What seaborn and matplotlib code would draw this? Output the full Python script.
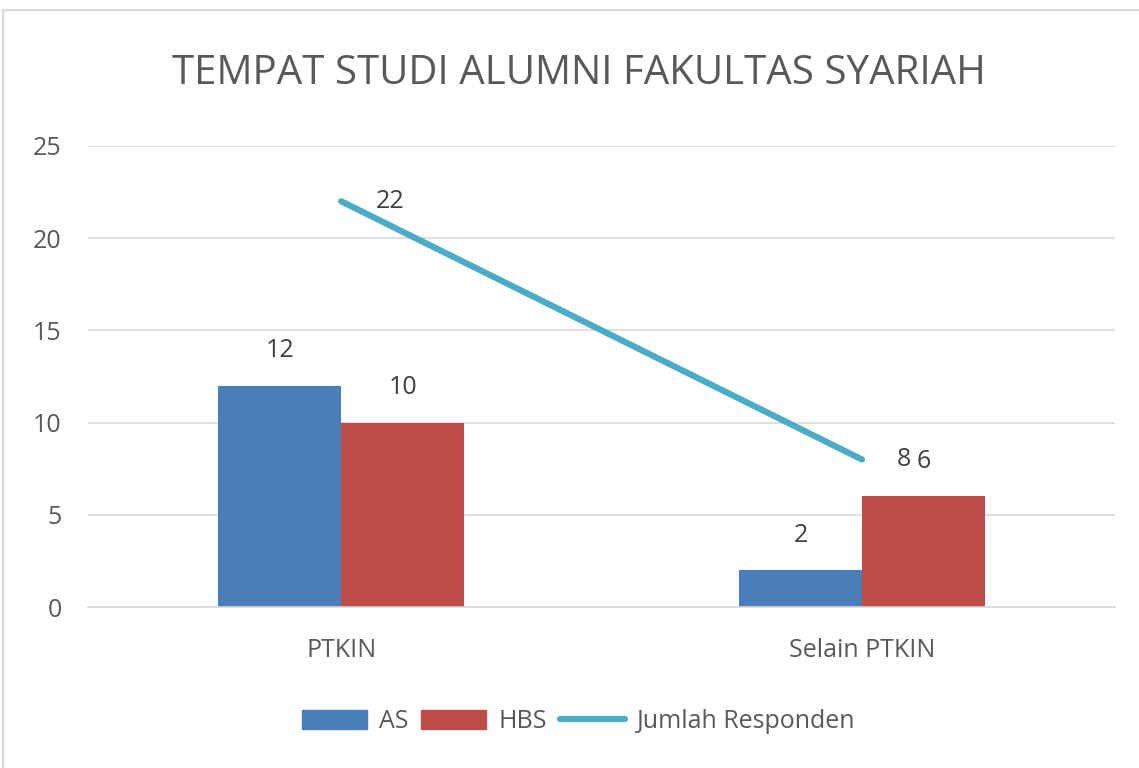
import numpy as np
import pandas as pd
import matplotlib.pyplot as plt
import matplotlib.patches as mpatches
from matplotlib.lines import Line2D
import seaborn as sns

# Data
categories = ['PTKIN', 'Selain PTKIN']
as_values = [12, 2]
hbs_values = [10, 6]
jumlah_responden = [22, 8]
series_names = ['AS', 'HBS']
line_name = 'Jumlah Responden'
title = 'TEMPAT STUDI ALUMNI FAKULTAS SYARIAH'
yticks = [0, 5, 10, 15, 20, 25]

blue = '#4A7EBB'
red = '#BE4B48'
teal = '#4BACC6'
text_grey = '#595959'
grid_grey = '#D9D9D9'

sns.set_theme(style='white')
plt.rcParams['font.family'] = ['Open Sans', 'DejaVu Sans']

df = pd.DataFrame({
    'Kategori': categories * 2,
    'Seri': [series_names[0]] * 2 + [series_names[1]] * 2,
    'Nilai': as_values + hbs_values,
})

fig = plt.figure(figsize=(11.39, 7.68), dpi=100)
ax = fig.add_axes([0.0773, 0.2096, 0.9017, 0.6004])

sns.barplot(data=df, x='Kategori', y='Nilai', hue='Seri', order=categories,
            hue_order=series_names, palette=[blue, red], width=0.472, gap=0,
            saturation=1, edgecolor='none', legend=False, ax=ax)

xpos = np.arange(len(categories))
sns.lineplot(x=xpos, y=jumlah_responden, color=teal, linewidth=4.5, ax=ax)

# bar value labels
for container in ax.containers:
    ax.bar_label(container, padding=16, fontsize=18, color='#404040')

# line value labels
for x, v in zip(xpos, jumlah_responden):
    ax.annotate(str(v), (x, v), xytext=(25, 0), textcoords='offset points',
                va='center', ha='left', fontsize=18, color='#404040')

ax.set_xlim(-0.486, 1.486)
ax.set_ylim(0, 25)
ax.set_yticks(yticks)
ax.yaxis.grid(True, color=grid_grey, linewidth=1.2)
ax.set_axisbelow(True)
for side in ['top', 'right', 'left']:
    ax.spines[side].set_visible(False)
ax.spines['bottom'].set_color(grid_grey)
ax.spines['bottom'].set_linewidth(1.2)
ax.tick_params(axis='both', length=0, labelsize=18, labelcolor=text_grey)
ax.tick_params(axis='x', pad=22)
ax.tick_params(axis='y', pad=19)
ax.set_xlabel('')
ax.set_ylabel('')

fig.text(0.508, 0.904, title, ha='center', va='center', fontsize=29, color=text_grey)

handles = [
    mpatches.Patch(color=blue, label=series_names[0]),
    mpatches.Patch(color=red, label=series_names[1]),
    Line2D([0], [0], color=teal, linewidth=4.5, label=line_name),
]
leg = fig.legend(handles=handles, loc='center', bbox_to_anchor=(0.508, 0.06), ncol=3,
                 frameon=False, fontsize=18, handlelength=2.6, handleheight=0.8,
                 columnspacing=0.5, handletextpad=0.5)
for t in leg.get_texts():
    t.set_color(text_grey)

# light chart-area border
fig.patches.append(mpatches.Rectangle((0.003, -0.01), 1.2, 0.997, transform=fig.transFigure,
                                      fill=False, edgecolor=grid_grey, linewidth=1.5))

fig.savefig('out.png', dpi=100, facecolor='white')
